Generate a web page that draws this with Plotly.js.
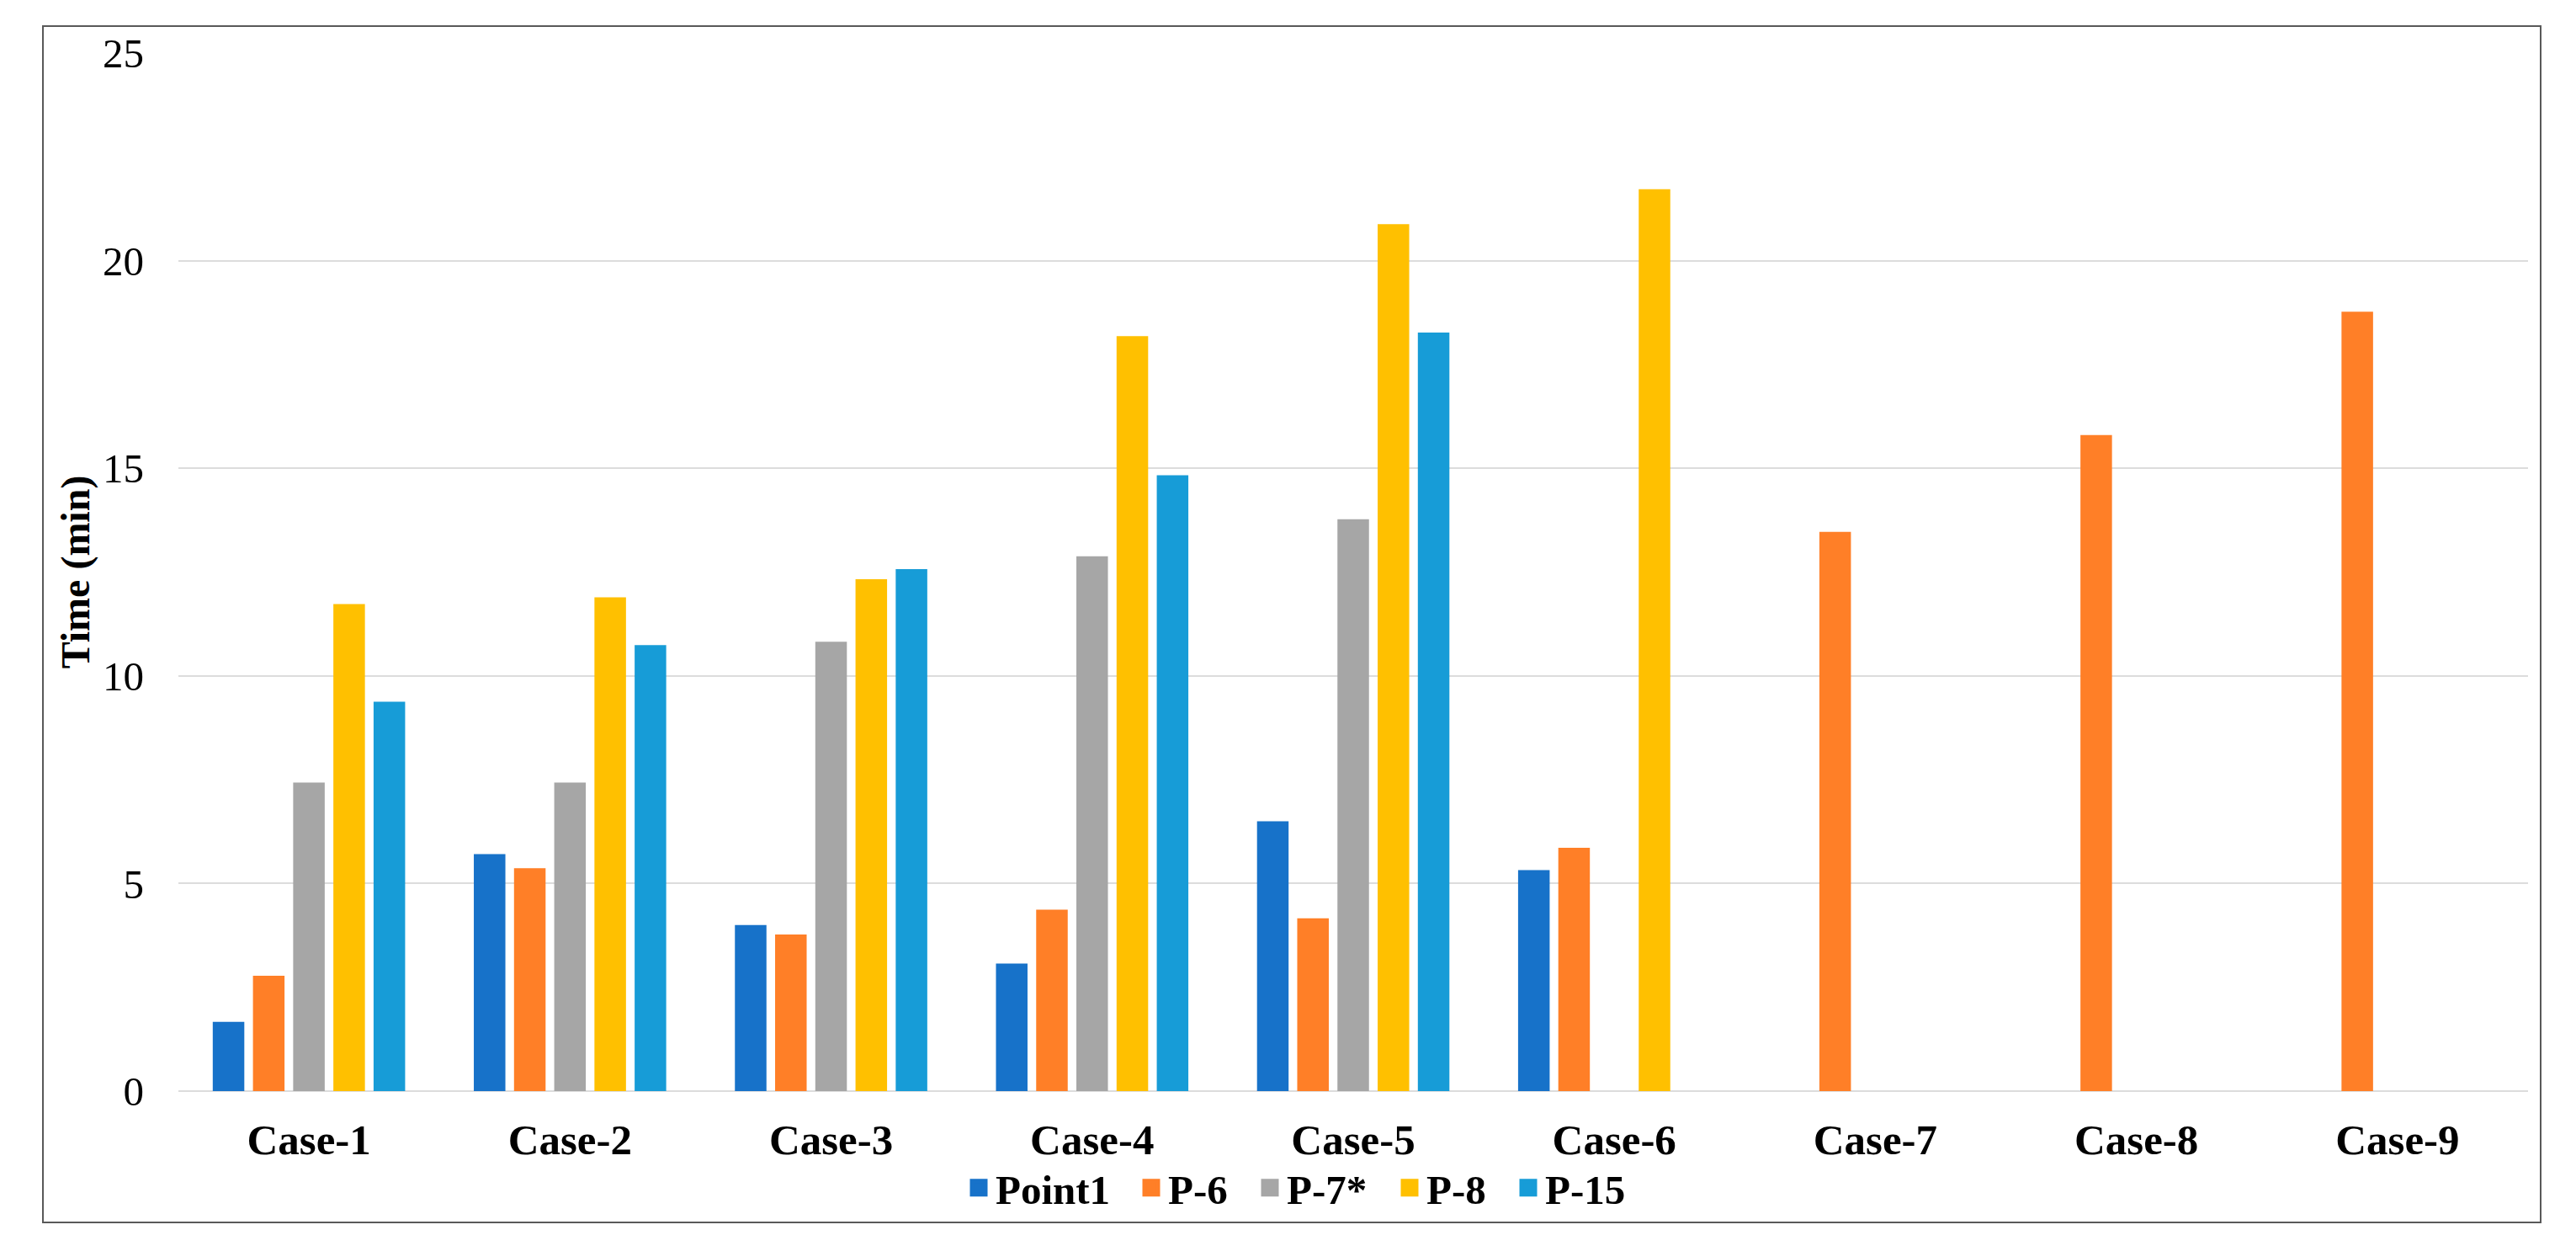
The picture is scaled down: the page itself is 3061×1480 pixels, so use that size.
<!DOCTYPE html>
<html>
<head>
<meta charset="utf-8">
<script src="https://cdn.plot.ly/plotly-3.0.1.min.js"></script>
<style>
  html, body { margin: 0; padding: 0; background: #ffffff; }
  #chart { width: 3061px; height: 1480px; }
</style>
</head>
<body>
<div id="chart"></div>
<script>
// ---- data ----
const cases = ['Case-1', 'Case-2', 'Case-3', 'Case-4', 'Case-5', 'Case-6', 'Case-7', 'Case-8', 'Case-9'];
const seriesNames = ['Point1', 'P-6', 'P-7*', 'P-8', 'P-15'];
const point1 = [1.67, 5.71, 4.00, 3.07, 6.50, 5.32, null, null, null];
const p6     = [2.78, 5.37, 3.77, 4.37, 4.16, 5.86, 13.47, 15.8, 18.77];
const p7     = [7.43, 7.43, 10.82, 12.88, 13.77, null, null, null, null];
const p8     = [11.73, 11.89, 12.33, 18.18, 20.88, 21.72, null, null, null];
const p15    = [9.38, 10.74, 12.57, 14.83, 18.27, null, null, null, null];
const yTickVals = [0, 5, 10, 15, 20, 25];
const yTickText = ['0', '5', '10', '15', '20', '25'];

// ---- styling ----
const colors = ['#1772C9', '#FF7F27', '#A6A6A6', '#FFC000', '#179CD7'];
const serif = 'Times New Roman, Liberation Serif, serif';
const seriesValues = [point1, p6, p7, p8, p15];
const legendIds = ['legend', 'legend2', 'legend3', 'legend4', 'legend5'];
// horizontal centre (px) of each legend swatch
const legendSwatchX = [1163, 1368, 1509, 1675, 1816];

const traces = [];
seriesValues.forEach((vals, i) => {
  traces.push({
    type: 'bar',
    name: seriesNames[i],
    x: cases,
    y: vals,
    marker: { color: colors[i] },
    showlegend: false,
    hoverinfo: 'x+y+name'
  });
});
// legend entries (larger square swatches than bar legend glyphs)
seriesNames.forEach((nm, i) => {
  traces.push({
    type: 'scatter',
    mode: 'markers',
    name: nm,
    x: [null],
    y: [null],
    legend: legendIds[i],
    marker: { symbol: 'square', color: colors[i], size: 16, line: { color: colors[i], width: 5 } },
    showlegend: true,
    hoverinfo: 'skip'
  });
});

// plot area in pixels: left 212, right 3004, top 63, bottom 1296
const L = 212, R = 3004, T = 63, B = 1296;
const W = R - L, H = B - T;
const px = v => (v - L) / W;
const py = v => (B - v) / H;

const layout = {
  width: 3061,
  height: 1480,
  margin: { l: L, r: 3061 - R, t: T, b: 1480 - B, autoexpand: false },
  paper_bgcolor: '#ffffff',
  plot_bgcolor: '#ffffff',
  barmode: 'group',
  bargap: 0.23,
  bargroupgap: 0.215,
  font: { family: serif, color: '#000000', size: 49 },
  xaxis: {
    type: 'category',
    showgrid: false,
    showline: false,
    zeroline: false,
    ticks: '',
    ticklabelstandoff: 23,
    tickfont: { family: serif, size: 51, weight: 'bold', color: '#000000' },
    automargin: false
  },
  yaxis: {
    range: [0, 25],
    tickvals: yTickVals,
    ticktext: yTickText,
    showgrid: true,
    gridcolor: '#dcdcdc',
    gridwidth: 2,
    zeroline: true,
    zerolinecolor: '#dcdcdc',
    zerolinewidth: 2,
    showline: false,
    ticks: '',
    ticklabelstandoff: 40,
    tickfont: { family: serif, size: 49, color: '#000000' },
    title: { text: 'Time (min)', font: { family: serif, size: 48, weight: 'bold', color: '#000000' }, standoff: 0 },
    automargin: false
  },
  shapes: [{
    type: 'rect',
    xref: 'paper', yref: 'paper',
    x0: px(51), x1: px(3019),
    y0: py(1452), y1: py(31),
    line: { color: '#595959', width: 2 },
    fillcolor: 'rgba(0,0,0,0)',
    layer: 'below'
  }]
};

legendIds.forEach((id, i) => {
  layout[id] = {
    orientation: 'h',
    x: px(legendSwatchX[i] - 20),
    xanchor: 'left',
    y: py(1411),
    yanchor: 'middle',
    font: { family: serif, size: 49, weight: 'bold', color: '#000000' },
    itemsizing: 'trace',
    bgcolor: 'rgba(0,0,0,0)',
    borderwidth: 0
  };
});

Plotly.newPlot('chart', traces, layout, { displayModeBar: false, staticPlot: true });
</script>
</body>
</html>
